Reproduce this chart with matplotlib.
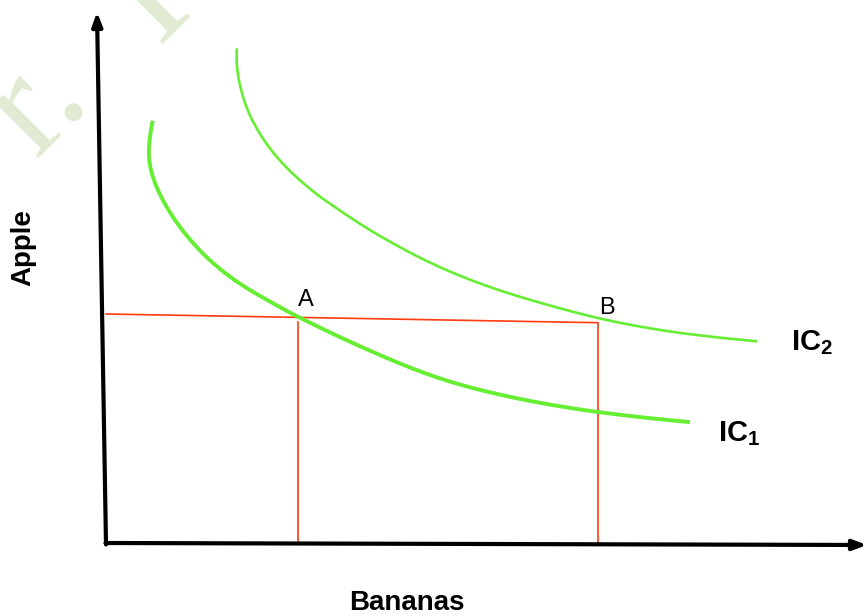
import matplotlib
matplotlib.use("Agg")
import matplotlib.pyplot as plt

# Indifference curves, in the drawing's own units (x = bananas, y = apples, y grows downward)
ic1_bananas = [152.7, 151.3, 150.1, 149.2, 148.8, 149.2, 150.5, 152.6, 155.4, 158.8, 162.8,
               167.3, 172.3, 177.8, 183.8, 190.4, 197.6, 205.4, 213.3, 224, 235, 246, 257,
               267, 277, 287, 297, 310, 325, 340, 355, 370, 385, 400, 412, 425, 437, 450,
               462, 475, 487, 500, 515, 530, 545, 560, 575, 590, 605, 620, 640, 660, 675, 690]
ic1_apples = [120.7, 128, 136, 144, 152, 160, 168, 176, 184, 192, 200,
              208, 216, 224, 232, 240, 248, 256, 263.3, 272.2, 280.4, 287.6, 294.2,
              299.9, 305.5, 311, 316.3, 322.7, 330, 337.1, 344, 350.7, 357.2, 363.5, 368.3,
              373.2, 377.4, 381.6, 385.1, 388.6, 391.6, 394.6, 397.9, 400.9, 403.7, 406.3,
              408.7, 410.9, 412.9, 414.8, 417.1, 419.2, 420.7, 422.1]

ic2_bananas = [236.7, 236.7, 237.6, 238.9, 240.7, 243.0, 245.7, 248.9, 252.7, 257.6, 262.6,
               268.9, 275.2, 282.5, 291.0, 299.6, 309.0, 320, 335, 350, 360, 370, 380, 395,
               410, 425, 440, 455, 470, 485, 500, 515, 530, 545, 560, 575, 590, 605, 620,
               635, 650, 665, 680, 700, 720, 740, 757]
ic2_apples = [48.3, 63.3, 72, 80, 88, 96.7, 105, 113, 121, 130, 138,
              147, 155, 163.3, 172, 180, 188, 196.7, 207.2, 217.3, 223.8, 230.1, 236.0, 244.5,
              252.6, 260.2, 267.2, 273.7, 279.7, 285.3, 290.5, 295.3, 299.8, 304.1, 308.3,
              312.3, 316.1, 319.6, 322.8, 325.7, 328.3, 330.7, 332.9, 335.4, 337.7, 339.7, 341.3]

# Bundles A and B and the guide lines dropped from them
point_names = ["A", "B"]
point_bananas = [298, 598]
point_apples = [317.4, 322.7]
guide_start = (106, 314)
origin = (106, 543)

fig = plt.figure(figsize=(8.65, 6.16), dpi=100)
ax = fig.add_axes([0, 0, 1, 1])
ax.set_xlim(0, 865)
ax.set_ylim(616, 0)
ax.axis("off")

green = "#66ee33"
red = "#ff3b0f"
wm = "#e1ead3"

# faint watermark letters
ax.text(36, 158, "r.", fontsize=108, family="Liberation Serif", color=wm,
        rotation=45, rotation_mode="anchor", ha="left", va="baseline", zorder=0, clip_on=True)
ax.text(158, 44, "I", fontsize=108, family="Liberation Serif", color=wm,
        rotation=45, rotation_mode="anchor", ha="left", va="baseline", zorder=0, clip_on=True)

# axes drawn as arrows
head = "-|>,head_length=0.8,head_width=0.3"
ax.annotate("", xy=(97, 12), xytext=(origin[0], origin[1] + 1.5), annotation_clip=False,
            arrowprops=dict(arrowstyle=head, lw=3, color="black", shrinkA=0, shrinkB=0))
ax.annotate("", xy=(867, 545), xytext=(origin[0] - 0.5, origin[1]), annotation_clip=False,
            arrowprops=dict(arrowstyle=head, lw=3, color="black", shrinkA=0, shrinkB=0))

# guide lines
ax.plot([guide_start[0], point_bananas[0], point_bananas[1], point_bananas[1]],
        [guide_start[1], point_apples[0], point_apples[1], origin[1]], color=red, lw=1.2)
ax.plot([point_bananas[0], point_bananas[0]], [point_apples[0] + 5, origin[1]], color=red, lw=1.2)

# indifference curves
ax.plot(ic1_bananas, ic1_apples, color=green, lw=2.8, solid_capstyle="butt", solid_joinstyle="round")
ax.plot(ic2_bananas, ic2_apples, color=green, lw=1.9, solid_capstyle="butt", solid_joinstyle="round")

# point labels
ax.text(point_bananas[0], point_apples[0] - 11, point_names[0], fontsize=17,
        family="Liberation Sans", ha="left", va="baseline")
ax.text(point_bananas[1] + 1, point_apples[1] - 9, point_names[1], fontsize=17,
        family="Liberation Sans", ha="left", va="baseline")

plt.rcParams["mathtext.fontset"] = "custom"
plt.rcParams["mathtext.bf"] = "Liberation Sans:bold"
plt.rcParams["mathtext.rm"] = "Liberation Sans"
ax.text(791, 350, r"$\mathbf{IC_2}$", fontsize=21, ha="left", va="baseline")
ax.text(718, 441, r"$\mathbf{IC_1}$", fontsize=21, ha="left", va="baseline")

# axis titles
ax.text(407, 603, "Bananas", fontsize=20, fontweight="bold", family="Liberation Sans",
        ha="center", va="center")
ax.text(23, 248, "Apple", fontsize=20, fontweight="bold", family="Liberation Sans",
        ha="center", va="center", rotation=90)

fig.savefig("out.png", dpi=100)
